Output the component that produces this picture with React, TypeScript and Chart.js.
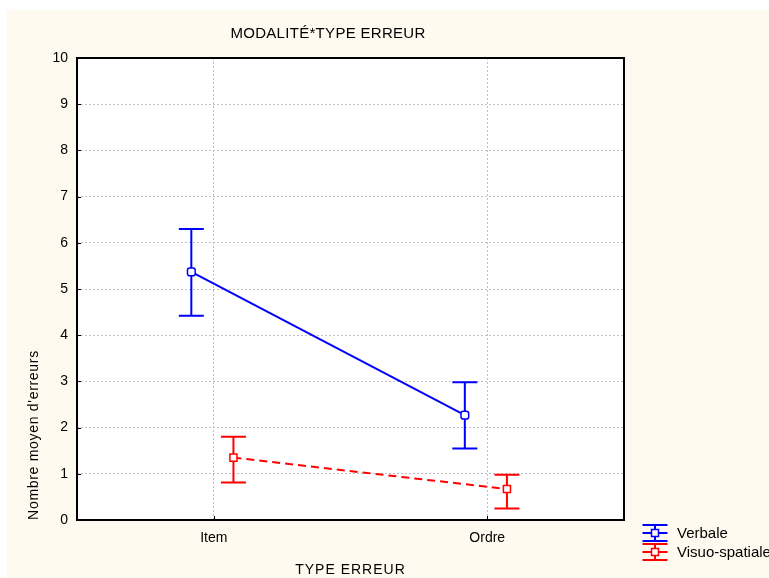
import React, { useEffect, useRef } from "react";
import { Chart, registerables } from "chart.js";
Chart.register(...registerables);

const chartTitle = "MODALITÉ*TYPE ERREUR";
const xTitle = "TYPE ERREUR";
const yTitle = "Nombre moyen d'erreurs";
const categories = ["Item", "Ordre"];
const seriesNames = ["Verbale", "Visuo-spatiale"];
const verbaleMean = [5.37, 2.27];
const verbaleLow = [4.42, 1.55];
const verbaleHigh = [6.3, 2.98];
const visuoMean = [1.35, 0.67];
const visuoLow = [0.81, 0.25];
const visuoHigh = [1.8, 0.98];
const yTickValues = [0, 1, 2, 3, 4, 5, 6, 7, 8, 9, 10];

const FONT = '"Liberation Sans", Arial, sans-serif';
const BLUE = "#0000ff";
const RED = "#ff0000";
const CREAM = "#fffaf0";

const decorPlugin = {
  id: "decor",
  beforeDraw(chart: any) {
    const { ctx, chartArea: a, width, height } = chart;
    ctx.save();
    ctx.fillStyle = CREAM;
    ctx.fillRect(0, 0, width, height);
    ctx.fillStyle = "#ffffff";
    ctx.fillRect(a.left, a.top, a.right - a.left, a.bottom - a.top);
    ctx.restore();
  },
  beforeDatasetsDraw(chart: any) {
    const { ctx } = chart;
    ctx.save();
    chart.data.datasets.forEach((ds: any, i: number) => {
      const meta = chart.getDatasetMeta(i);
      const ys = chart.scales.y;
      ctx.strokeStyle = ds.borderColor;
      ctx.lineWidth = 2;
      ctx.setLineDash([]);
      meta.data.forEach((pt: any, j: number) => {
        const x = pt.x;
        const yl = ys.getPixelForValue(ds.errLow[j]);
        const yh = ys.getPixelForValue(ds.errHigh[j]);
        ctx.beginPath();
        ctx.moveTo(x, yl);
        ctx.lineTo(x, yh);
        ctx.moveTo(x - 12.5, yl);
        ctx.lineTo(x + 12.5, yl);
        ctx.moveTo(x - 12.5, yh);
        ctx.lineTo(x + 12.5, yh);
        ctx.stroke();
      });
    });
    ctx.restore();
  },
  afterDraw(chart: any) {
    const { ctx, chartArea: a } = chart;
    const xs = chart.scales.x;
    const ys = chart.scales.y;
    ctx.save();
    // frame
    ctx.strokeStyle = "#000";
    ctx.lineWidth = 2;
    ctx.setLineDash([]);
    ctx.strokeRect(a.left, a.top, a.right - a.left, a.bottom - a.top);
    // inner ticks
    ctx.lineWidth = 1;
    ctx.beginPath();
    yTickValues.forEach((v) => {
      const y = Math.round(ys.getPixelForValue(v)) + 0.5;
      ctx.moveTo(a.left, y);
      ctx.lineTo(a.left + 4, y);
    });
    categories.forEach((_, i) => {
      const x = Math.round(xs.getPixelForValue(i + 1)) + 0.5;
      ctx.moveTo(x, a.bottom);
      ctx.lineTo(x, a.bottom - 4);
    });
    ctx.stroke();
    // titles
    ctx.fillStyle = "#000";
    ctx.textAlign = "center";
    ctx.textBaseline = "middle";
    ctx.font = "15px " + FONT;
    (ctx as any).letterSpacing = "0.3px";
    ctx.fillText(chartTitle, 321, 24);
    ctx.font = "14px " + FONT;
    (ctx as any).letterSpacing = "1px";
    ctx.fillText(xTitle, (a.left + a.right) / 2, 560);
    ctx.save();
    ctx.translate(27, 425);
    ctx.rotate(-Math.PI / 2);
    (ctx as any).letterSpacing = "0.7px";
    ctx.fillText(yTitle, 0, 0);
    ctx.restore();
    (ctx as any).letterSpacing = "0px";
    // legend
    const colors = [BLUE, RED];
    const rowsY = [523, 542];
    seriesNames.forEach((name, i) => {
      const cx = 648;
      const cy = rowsY[i];
      ctx.strokeStyle = colors[i];
      ctx.lineWidth = 2;
      ctx.beginPath();
      ctx.moveTo(cx - 12.5, cy - 8);
      ctx.lineTo(cx + 12.5, cy - 8);
      ctx.moveTo(cx - 12.5, cy + 8);
      ctx.lineTo(cx + 12.5, cy + 8);
      ctx.moveTo(cx, cy - 8);
      ctx.lineTo(cx, cy + 8);
      ctx.moveTo(cx - 12.5, cy);
      ctx.lineTo(cx + 12.5, cy);
      ctx.stroke();
      ctx.fillStyle = "#fff";
      ctx.lineWidth = 1.5;
      ctx.beginPath();
      ctx.rect(cx - 3.5, cy - 3.5, 7, 7);
      ctx.fill();
      ctx.stroke();
      ctx.fillStyle = "#000";
      ctx.textAlign = "left";
      ctx.font = "15px " + FONT;
      ctx.fillText(name, 670, cy + 1);
    });
    ctx.restore();
  },
};

export default function App() {
  const ref = useRef<HTMLCanvasElement>(null);
  useEffect(() => {
    if (!ref.current) return;
    const mk = (means: number[], off: number) =>
      means.map((v, i) => ({ x: i + 1 + off, y: v }));
    const chart = new Chart(ref.current, {
      type: "line",
      data: {
        datasets: [
          {
            label: seriesNames[0],
            data: mk(verbaleMean, -0.082),
            borderColor: BLUE,
            backgroundColor: "#fff",
            borderWidth: 2,
            pointStyle: "rectRounded",
            pointRadius: 4.5,
            pointBorderWidth: 1.5,
            pointBackgroundColor: "#fff",
            pointBorderColor: BLUE,
            errLow: verbaleLow,
            errHigh: verbaleHigh,
          } as any,
          {
            label: seriesNames[1],
            data: mk(visuoMean, 0.072),
            borderColor: RED,
            backgroundColor: "#fff",
            borderWidth: 2,
            borderDash: [8, 5],
            pointStyle: "rect",
            pointRadius: 5,
            pointBorderWidth: 1.5,
            pointBackgroundColor: "#fff",
            pointBorderColor: RED,
            errLow: visuoLow,
            errHigh: visuoHigh,
          } as any,
        ],
      },
      options: {
        animation: false,
        responsive: false,
        layout: { padding: { left: 0, top: 48, right: 145, bottom: 0 } },
        plugins: { legend: { display: false }, tooltip: { enabled: false } },
        scales: {
          x: {
            type: "linear",
            min: 0.5,
            max: 2.5,
            afterBuildTicks: (s: any) => {
              s.ticks = categories.map((_, i) => ({ value: i + 1 }));
            },
            afterFit: (s: any) => {
              s.height = 58;
            },
            ticks: {
              callback: (v: any) => categories[Math.round(Number(v)) - 1] ?? "",
              color: "#000",
              font: { family: FONT, size: 14 },
              padding: 10,
              maxRotation: 0,
              autoSkip: false,
            },
            grid: { color: "#c0c0c0", lineWidth: 1, drawTicks: false },
            border: { display: false, dash: [2, 2] },
          },
          y: {
            min: 0,
            max: 10,
            afterBuildTicks: (s: any) => {
              s.ticks = yTickValues.map((v) => ({ value: v }));
            },
            afterFit: (s: any) => {
              s.width = 70;
            },
            ticks: {
              color: "#000",
              font: { family: FONT, size: 14 },
              padding: 9,
            },
            grid: { color: "#c0c0c0", lineWidth: 1, drawTicks: false },
            border: { display: false, dash: [2, 2] },
          },
        },
      },
      plugins: [decorPlugin],
    } as any);
    return () => chart.destroy();
  }, []);
  return (
    <div style={{ position: "absolute", left: 7, top: 10, width: 762, height: 568 }}>
      <canvas ref={ref} width={762} height={568} style={{ width: 762, height: 568, display: "block" }} />
    </div>
  );
}
